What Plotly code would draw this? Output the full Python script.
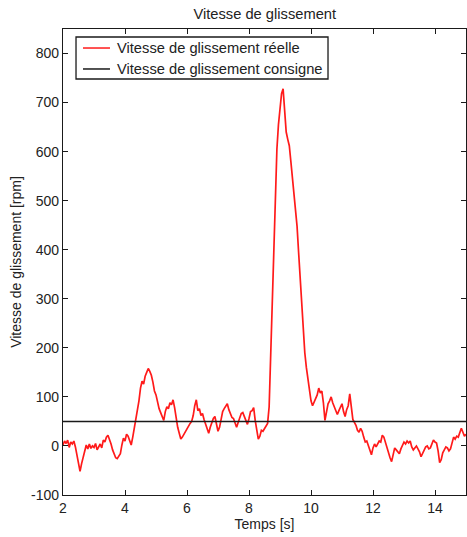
import numpy as np
import plotly.graph_objects as go

# echantillonnage du signal mesuré
t_debut = 2.0
pas = 0.05

# vitesse de glissement réelle [rpm], une ligne par seconde (20 points)
vitesse_reelle = [
    2, 10, 5, 12, -3, 8, 4, 10, -2, -18, -38, -52, -36, -25, -12, 2, -6, 4, -5, 0,
    -3, 5, -8, -2, 4, -4, 12, 8, 18, 22, 14, 4, -8, -16, -24, -26, -20, -16, 2, 16,
    10, 24, 20, 8, 2, 18, 36, 50, 72, 92, 118, 132, 126, 142, 150, 158, 152, 144, 130, 112,
    104, 88, 76, 68, 58, 52, 70, 80, 76, 88, 84, 94, 78, 56, 38, 26, 14, 18, 24, 30,
    36, 40, 46, 50, 62, 82, 94, 72, 76, 62, 66, 54, 44, 32, 26, 38, 48, 56, 60, 44,
    30, 38, 52, 70, 76, 82, 86, 74, 66, 58, 56, 44, 38, 48, 58, 66, 68, 60, 50, 44,
    56, 70, 72, 78, 52, 32, 14, 20, 32, 30, 36, 40, 46, 80, 180, 290, 420, 520, 605, 655,
    690, 718, 728, 690, 640, 625, 612, 580, 545, 510, 480, 448, 395, 340, 285, 236, 190, 160, 138, 110,
    92, 82, 90, 98, 104, 118, 108, 112, 88, 52, 70, 86, 92, 100, 88, 80, 74, 64, 72, 80,
    86, 70, 60, 74, 82, 106, 84, 54, 48, 42, 32, 28, 36, 30, 18, 8, 10, 2, -6, -18,
    -4, 4, -2, 6, 10, 8, 22, 18, 6, -2, -16, -24, -32, -18, -4, -8, -12, -16, -6, 2,
    8, 4, 10, 6, 10, -2, -8, -4, 0, -6, -12, -22, -16, -8, -2, 0, -6, -4, 6, 12,
    8, 6, -10, -34, -28, -14, -8, -2, -4, -10, -6, 8, 18, 14, 20, 18, 26, 36, 28, 20,
    24,
]
temps = np.round(t_debut + pas * np.arange(len(vitesse_reelle)), 2)

# consigne constante
temps_consigne = [2, 15]
vitesse_consigne = [50, 50]

ticks_x = [2, 4, 6, 8, 10, 12, 14]
ticks_y = [-100, 0, 100, 200, 300, 400, 500, 600, 700, 800]

noms = ["Vitesse de glissement réelle", "Vitesse de glissement consigne"]
couleurs = ["#ff1a1a", "#1a1a1a"]

police = "Liberation Sans, Arial, sans-serif"
gris = "#222222"

fig = go.Figure()
fig.add_trace(go.Scatter(
    x=temps, y=vitesse_reelle, mode="lines",
    line=dict(color=couleurs[0], width=1.7), name=noms[0],
))
fig.add_trace(go.Scatter(
    x=temps_consigne, y=vitesse_consigne, mode="lines",
    line=dict(color=couleurs[1], width=1.5), name=noms[1],
))

# légende dessinée à la main (cadre serré façon MATLAB)
fig.add_shape(type="rect", xref="paper", yref="paper",
              x0=0.0323, x1=0.6576, y0=0.8927, y1=0.9828,
              line=dict(color="#1a1a1a", width=1.3), fillcolor="white", layer="above")
for i, (nom, coul) in enumerate(zip(noms, couleurs)):
    yl = 0.9592 - i * 0.045
    fig.add_shape(type="line", xref="paper", yref="paper",
                  x0=0.0496, x1=0.1166, y0=yl, y1=yl,
                  line=dict(color=coul, width=1.5), layer="above")
    fig.add_annotation(text=nom, xref="paper", yref="paper", x=0.1290, y=yl,
                       xanchor="left", yanchor="middle", showarrow=False,
                       font=dict(size=14.7, family=police, color=gris))

axe = dict(
    showgrid=False, zeroline=False, showline=True, linecolor="#1a1a1a",
    linewidth=1.2, mirror="allticks", ticks="inside", ticklen=5,
    tickcolor="#1a1a1a", tickfont=dict(family=police, size=14, color=gris),
    automargin=False,
)

fig.update_layout(
    width=467, height=537,
    margin=dict(l=63, r=1, t=29, b=42),
    paper_bgcolor="white", plot_bgcolor="white",
    font=dict(family=police, color=gris),
    title=dict(text="Vitesse de glissement", x=0.567, xanchor="center",
               y=1 - 14 / 537, yanchor="middle", font=dict(size=14.7, family=police, color=gris)),
    xaxis=dict(axe, range=[2, 15], tickvals=ticks_x, ticktext=[str(v) for v in ticks_x],
               title=dict(text="Temps [s]", standoff=3, font=dict(size=14))),
    yaxis=dict(axe, range=[-100, 850], tickvals=ticks_y, ticktext=[str(v) for v in ticks_y],
               title=dict(text="Vitesse de glissement [rpm]", standoff=6, font=dict(size=14))),
    showlegend=False,
)

fig.write_html("out.html", config={"displayModeBar": False},
               post_script="document.body.style.margin='0';")
